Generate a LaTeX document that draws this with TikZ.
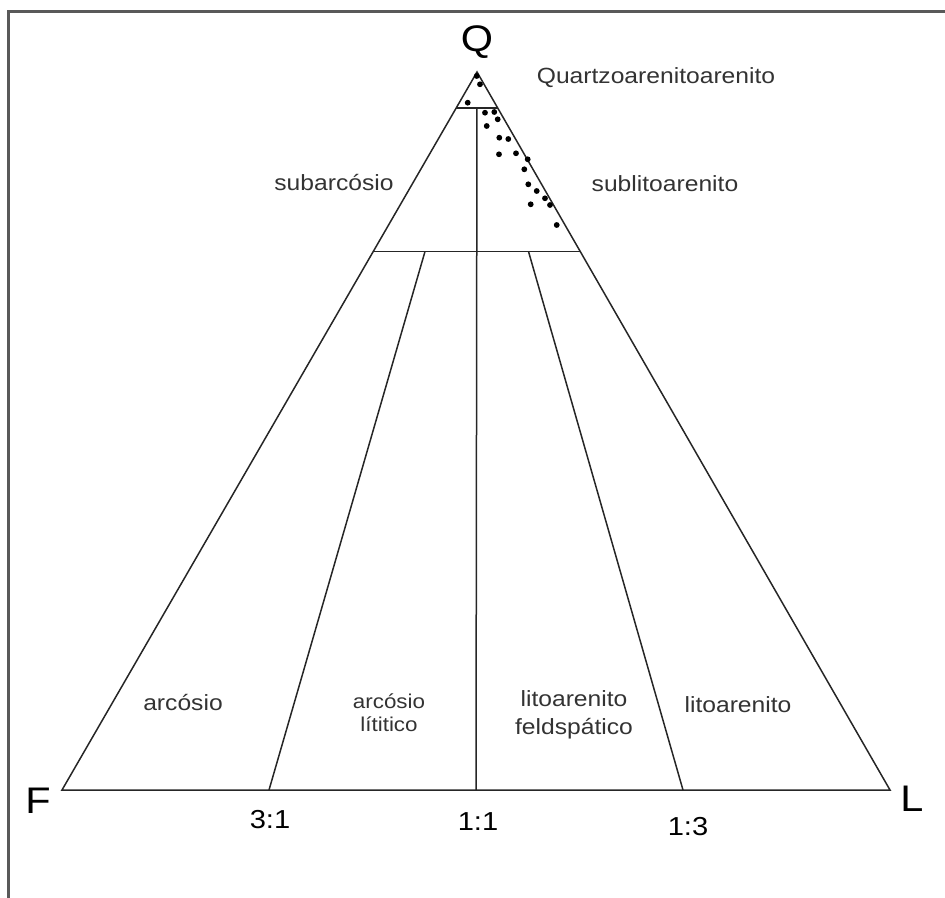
\documentclass[tikz,border=0pt]{standalone}
\usepackage{fontspec}
\setmainfont{Liberation Sans}[FakeStretch=1.12]
\usetikzlibrary{calc}

\tikzset{
  tri/.style={line width=1.5bp, black!85},
  frameline/.style={line width=3bp, gray!70!black},
  lbl/.style={font=\fontsize{22bp}{28bp}\selectfont, align=center, inner sep=0pt, text=black!80},
  small/.style={font=\fontsize{20bp}{23bp}\selectfont, align=center, inner sep=0pt, text=black!80},
  pole/.style={font=\fontsize{37bp}{40bp}\selectfont, inner sep=0pt},
  ratio/.style={font=\fontsize{26bp}{28bp}\selectfont, inner sep=0pt, anchor=base},
}

\begin{document}
\begin{tikzpicture}[x=1bp,y=-1bp]
        \useasboundingbox (0,0) rectangle (945,898);
        \clip (0,0) rectangle (945,898);
        \draw[frameline] (8.5,905) -- (8.5,11) -- (950,11);

        % vertices
        \coordinate (q) at (477,72);
        \coordinate (f) at (62,790);
        \coordinate (l) at (890,790);
        \draw[tri] (q) -- (f) -- (l) -- cycle;

        % 95% and 75% quartz lines
        \coordinate (q95f) at ($(q)!0.05!(f)$);
        \coordinate (q95l) at ($(q)!0.05!(l)$);
        \coordinate (q75f) at ($(q)!0.25!(f)$);
        \coordinate (q75l) at ($(q)!0.25!(l)$);
        \draw[tri] (q95f) -- (q95l);
        \draw[tri] (q75f) -- (q75l);

        % F:L ratio lines
        \coordinate (b31) at ($(f)!0.25!(l)$);
        \coordinate (b11) at ($(f)!0.5!(l)$);
        \coordinate (b13) at ($(f)!0.75!(l)$);
        \coordinate (m11) at ($(q95f)!0.5!(q95l)$);
        \coordinate (m31) at ($(q75f)!0.25!(q75l)$);
        \coordinate (m13) at ($(q75f)!0.75!(q75l)$);
        \draw[tri] (m11) -- (b11);
        \draw[tri] (m31) -- (b31);
        \draw[tri] (m13) -- (b13);

        % samples
        \foreach \px/\py in {476.7/76, 480/84.3, 467.7/102.7, 485/112.7, 494.3/112,
            497.7/119.3, 486.7/126, 499.3/137.7, 508.3/139, 499/154.3, 516/153.3,
            527.7/159.3, 524.3/169.3, 528.3/184.3, 536.7/191, 545/198.3,
            550/205, 530.7/204.3, 556.7/225}
          \fill (\px,\py) circle (2.9bp);

        % poles
        \node[pole] (qname) at (477,42) {Q};
        \node[pole] (fname) at (38,801) {F};
        \node[pole] (lname) at (912,799) {L};

        % ratios
        \node[ratio] (r31) at (270,828) {3:1};
        \node[ratio] (r11) at (478,830) {1:1};
        \node[ratio] (r13) at (688,835) {1:3};

        % fields
        \node[lbl, anchor=base] (quartzo) at (656,83) {Quartzoarenitoarenito};
        \node[lbl, anchor=base] (subarc) at (334,190) {subarcósio};
        \node[lbl, anchor=base] (sublito) at (665,191) {sublitoarenito};
        \node[lbl, anchor=base] (arc) at (183,710) {arcósio};
        \node[small] (arclit) at (389,713) {arcósio\\lítitico};
        \node[lbl] (litofeld) at (574,715) {litoarenito\\feldspático};
        \node[lbl, anchor=base] (lito) at (738,712) {litoarenito};
\end{tikzpicture}
\end{document}
